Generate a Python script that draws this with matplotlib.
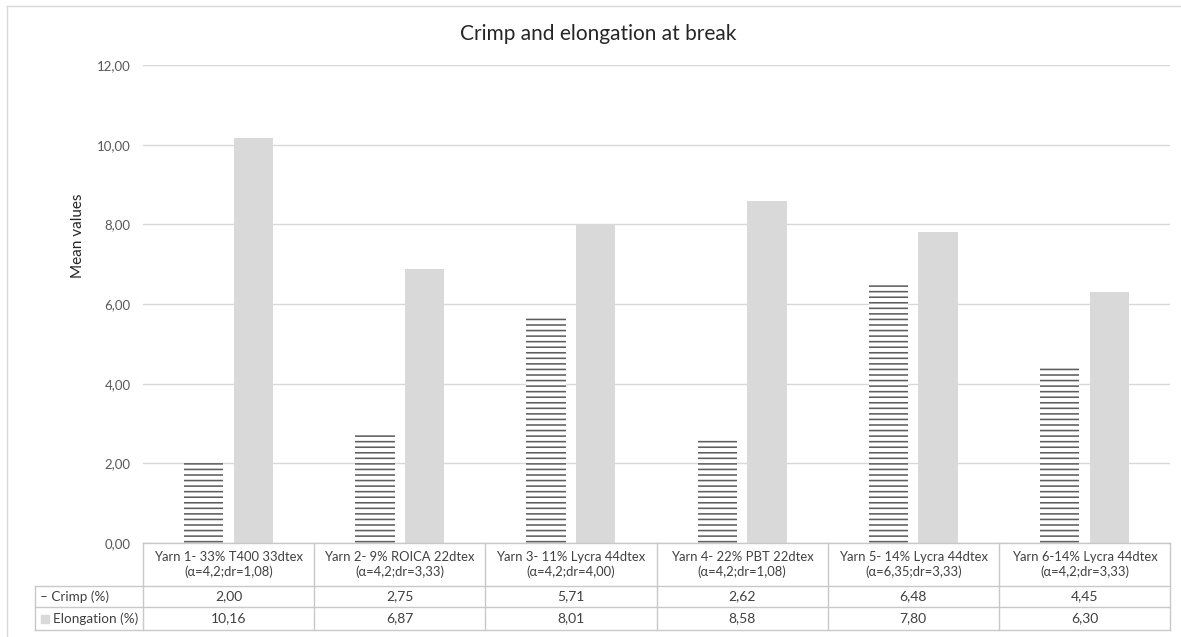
import matplotlib.pyplot as plt
import numpy as np
from matplotlib.ticker import FuncFormatter
from matplotlib.patches import Rectangle
from matplotlib.lines import Line2D

plt.rcParams['font.family'] = ['Lato', 'DejaVu Sans']
plt.rcParams['hatch.linewidth'] = 1.15

yarns = [
    'Yarn 1- 33% T400 33dtex\n(α=4,2;dr=1,08)',
    'Yarn 2- 9% ROICA 22dtex\n(α=4,2;dr=3,33)',
    'Yarn 3- 11% Lycra 44dtex\n(α=4,2;dr=4,00)',
    'Yarn 4- 22% PBT 22dtex\n(α=4,2;dr=1,08)',
    'Yarn 5- 14% Lycra 44dtex\n(α=6,35;dr=3,33)',
    'Yarn 6-14% Lycra 44dtex\n(α=4,2;dr=3,33)',
]
crimp = [2.00, 2.75, 5.71, 2.62, 6.48, 4.45]
elongation = [10.16, 6.87, 8.01, 8.58, 7.80, 6.30]
yticks = [0, 2, 4, 6, 8, 10, 12]

W, H = 1181, 637
fig = plt.figure(figsize=(W / 100, H / 100), dpi=100)


def fx(px):
    return px / W


def fy(py):
    return 1 - py / H


# plot area in pixels
L, R, T, B = 143, 1170, 65, 543
ax = fig.add_axes([fx(L), fy(B), fx(R) - fx(L), fy(T) - fy(B)])

x = np.arange(len(yarns))
w = 0.23
ax.bar(x - 0.145, crimp, w, facecolor='white', edgecolor='#5e5e5e',
       linewidth=0, hatch='---', zorder=3)
ax.bar(x + 0.145, elongation, w, color='#d9d9d9', zorder=3)

ax.set_xlim(-0.5, len(yarns) - 0.5)
ax.set_ylim(0, 12)
ax.set_yticks(yticks)
ax.yaxis.set_major_formatter(FuncFormatter(lambda v, p: f'{v:.2f}'.replace('.', ',')))
ax.tick_params(axis='y', length=0, pad=9, labelsize=9.5, labelcolor='#595959')
ax.set_xticks([])
ax.grid(axis='y', color='#d9d9d9', linewidth=1, zorder=0)
for s in ax.spines.values():
    s.set_visible(False)

fig.text(fx(78), fy(236), 'Mean values', rotation=90, ha='center', va='center',
         fontsize=11, color='#262626')
fig.text(fx(598), fy(34), 'Crimp and elongation at break', ha='center',
         va='center', fontsize=15, color='#262626')

# data table under the plot
line_c = '#c8c8c8'
txt_c = '#404040'
rows = [543, 586, 607, 630]
lab_left = 35
col_edges = [L + i * (R - L) / len(yarns) for i in range(len(yarns) + 1)]


def hline(y, x0, x1):
    fig.add_artist(Line2D([fx(x0), fx(x1)], [fy(y), fy(y)], color=line_c, lw=1))


def vline(xp, y0, y1):
    fig.add_artist(Line2D([fx(xp), fx(xp)], [fy(y0), fy(y1)], color=line_c, lw=1))


hline(rows[0], L, R)
for r in rows[1:]:
    hline(r, lab_left, R)
vline(lab_left, rows[1], rows[3])
for ce in col_edges:
    vline(ce, rows[0], rows[3])

xt = ax.get_xaxis_transform()
ytab = lambda py: (B - py) / (B - T)
for i in range(len(yarns)):
    ax.text(x[i], ytab((rows[0] + rows[1]) / 2), yarns[i], transform=xt,
            ha='center', va='center', fontsize=9.4, color=txt_c,
            linespacing=1.3, clip_on=False)
    ax.text(x[i], ytab((rows[1] + rows[2]) / 2), f'{crimp[i]:.2f}'.replace('.', ','),
            transform=xt, ha='center', va='center', fontsize=10, color=txt_c,
            clip_on=False)
    ax.text(x[i], ytab((rows[2] + rows[3]) / 2), f'{elongation[i]:.2f}'.replace('.', ','),
            transform=xt, ha='center', va='center', fontsize=10, color=txt_c,
            clip_on=False)

fig.text(fx(40), fy((rows[1] + rows[2]) / 2), '– Crimp (%)', ha='left',
         va='center', fontsize=9.7, color=txt_c)
fig.add_artist(Rectangle((fx(41), fy((rows[2] + rows[3]) / 2 + 4)), fx(8), fy(0) - fy(8),
                         transform=fig.transFigure, color='#d9d9d9'))
fig.text(fx(53), fy((rows[2] + rows[3]) / 2), 'Elongation (%)', ha='left',
         va='center', fontsize=9.7, color=txt_c)

# chart frame
fig.add_artist(Line2D([fx(7), 1], [fy(5.5), fy(5.5)], color='#d9d9d9', lw=1))
fig.add_artist(Line2D([fx(7), fx(7)], [fy(5.5), 0], color='#d9d9d9', lw=1))

fig.savefig('out.png', dpi=100)
